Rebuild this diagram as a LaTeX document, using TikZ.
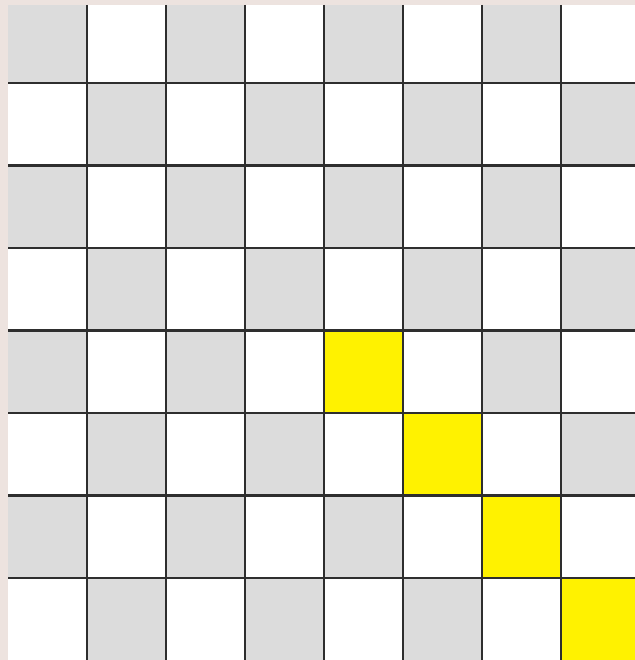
\documentclass[tikz,border=0pt]{standalone}
\definecolor{bgpink}{HTML}{EDE3DF}
\definecolor{cellgray}{HTML}{DCDCDC}
\definecolor{cellyellow}{HTML}{FFF200}
\definecolor{gridline}{HTML}{2E2E2E}
\tikzset{
  gridrule/.style={draw=gridline, line width=2.2bp},
}
\begin{document}
\begin{tikzpicture}[x=1bp,y=-1bp]
\useasboundingbox (0,0) rectangle (635,660);
\clip (0,0) rectangle (635,660);
\fill[bgpink] (0,0) rectangle (635,660);
% cells: x0=8, w=79; y0=0.5, h=82.5
\fill[white] (8,5) rectangle (640,662);
\foreach \r in {0,...,7}{
  \foreach \c in {0,...,7}{
    \pgfmathtruncatemacro{\parity}{mod(\r+\c,2)}
    \ifnum\parity=0
      \pgfmathsetmacro{\xa}{8+79*\c}
      \pgfmathsetmacro{\ya}{max(5,0.5+82.5*\r)}
      \pgfmathsetmacro{\xb}{8+79*(\c+1)}
      \pgfmathsetmacro{\yb}{0.5+82.5*(\r+1)}
      \ifnum\r>3
        \ifnum\r=\c
          \fill[cellyellow] (\xa,\ya) rectangle (\xb,\yb);
        \else
          \fill[cellgray] (\xa,\ya) rectangle (\xb,\yb);
        \fi
      \else
        \fill[cellgray] (\xa,\ya) rectangle (\xb,\yb);
      \fi
    \fi
  }
}
% grid lines
\foreach \c in {1,...,7}{
  \draw[gridrule] ({8+79*\c},5) -- ({8+79*\c},662);
}
\foreach \r in {1,...,7}{
  \draw[gridrule] (8,{0.5+82.5*\r}) -- (640,{0.5+82.5*\r});
}
\end{tikzpicture}
\end{document}
